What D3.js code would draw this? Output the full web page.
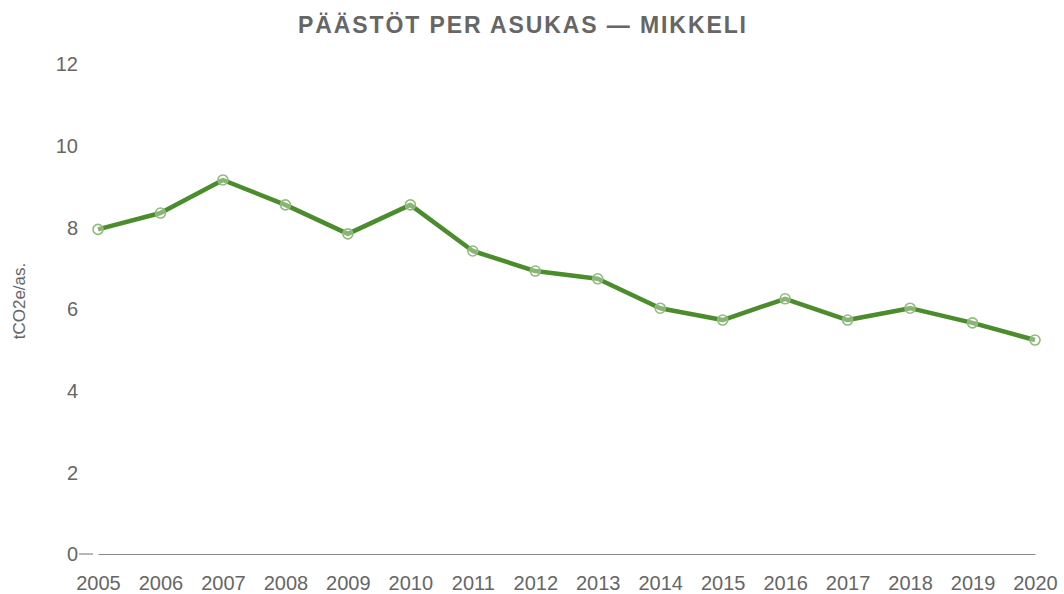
<!DOCTYPE html>
<html>
<head>
<meta charset="utf-8">
<script src="https://cdn.jsdelivr.net/npm/d3@7"></script>
<style>
  body { margin: 0; background: #fff; }
  svg { display: block; font-family: "Liberation Sans", Arial, sans-serif; }
</style>
</head>
<body>
<div id="chart"></div>
<script>
// data
const years = [2005, 2006, 2007, 2008, 2009, 2010, 2011, 2012, 2013, 2014, 2015, 2016, 2017, 2018, 2019, 2020];
const emissions = [7.95, 8.35, 9.16, 8.55, 7.84, 8.55, 7.42, 6.93, 6.74, 6.02, 5.73, 6.25, 5.73, 6.02, 5.66, 5.24];
const yTicks = [0, 2, 4, 6, 8, 10, 12];

const width = 1064, height = 594;
const margin = { top: 64, right: 29, bottom: 40, left: 98 };

const svg = d3.select("#chart")
    .append("svg")
    .attr("width", width)
    .attr("height", height);

const x = d3.scaleLinear()
    .domain([2005, 2020])
    .range([margin.left, width - margin.right]);

const y = d3.scaleLinear()
    .domain([0, 12])
    .range([height - margin.bottom, margin.top]);

// title
svg.append("text")
    .attr("x", 523)
    .attr("y", 33)
    .attr("text-anchor", "middle")
    .attr("font-size", 23)
    .attr("font-weight", "bold")
    .attr("letter-spacing", 1.9)
    .attr("fill", "#666")
    .text("PÄÄSTÖT PER ASUKAS — MIKKELI");

// y axis label
svg.append("text")
    .attr("transform", "translate(25,301) rotate(-90)")
    .attr("text-anchor", "middle")
    .attr("font-size", 17)
    .attr("fill", "#666")
    .text("tCO2e/as.");

// y tick labels (no axis line, only a short tick at zero)
svg.selectAll(".ytick")
    .data(yTicks)
    .enter()
    .append("text")
    .attr("class", "ytick")
    .attr("x", 78)
    .attr("y", d => y(d))
    .attr("dy", "0.36em")
    .attr("text-anchor", "end")
    .attr("font-size", 20)
    .attr("fill", "#666")
    .text(d => d);

svg.append("line")
    .attr("x1", 79)
    .attr("x2", 93)
    .attr("y1", y(0))
    .attr("y2", y(0))
    .attr("stroke", "#888")
    .attr("stroke-width", 1.2);

// x axis
const xAxis = svg.append("g")
    .attr("transform", `translate(0,${y(0)})`)
    .call(d3.axisBottom(x)
        .tickValues(years)
        .tickFormat(d3.format("d"))
        .tickSize(0)
        .tickPadding(22));

xAxis.select(".domain")
    .attr("stroke", "#888")
    .attr("stroke-width", 1.2);

xAxis.selectAll("text")
    .attr("font-size", 20)
    .attr("fill", "#666")
    .attr("font-family", "'Liberation Sans', Arial, sans-serif");

// line
const line = d3.line()
    .x((d, i) => x(years[i]))
    .y(d => y(d));

svg.append("path")
    .datum(emissions)
    .attr("fill", "none")
    .attr("stroke", "#4b8c2c")
    .attr("stroke-width", 4.5)
    .attr("stroke-linejoin", "round")
    .attr("d", line);

// point markers
svg.selectAll(".dot")
    .data(emissions)
    .enter()
    .append("circle")
    .attr("class", "dot")
    .attr("cx", (d, i) => x(years[i]))
    .attr("cy", d => y(d))
    .attr("r", 5)
    .attr("fill", "rgba(255,255,255,0.35)")
    .attr("stroke", "#8fbb7c")
    .attr("stroke-width", 1.6);
</script>
</body>
</html>
